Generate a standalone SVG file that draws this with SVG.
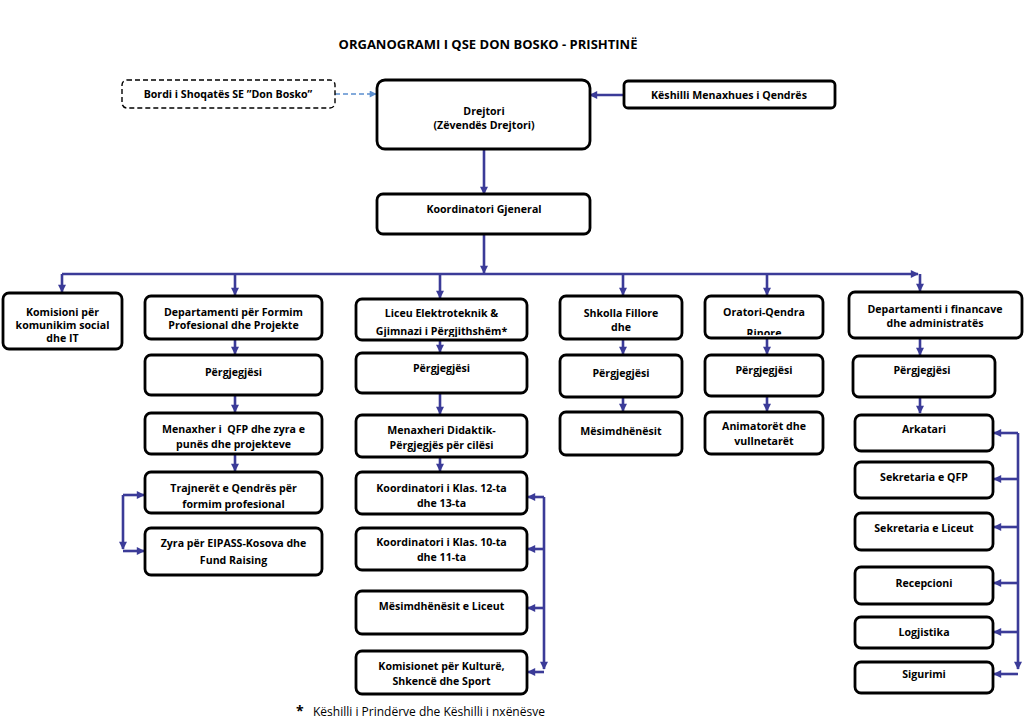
<svg xmlns="http://www.w3.org/2000/svg" width="1024" height="724" viewBox="0 0 1024 724">
<style>
.b{fill:#fff;stroke:#000;stroke-width:2.8}
.d{fill:#fff;stroke:#000;stroke-width:1.4;stroke-dasharray:5 3}
.t{font-family:"Open Sans","Noto Sans",sans-serif;font-weight:700;font-size:10.6px;fill:#000;text-anchor:middle}
.c{fill:none;stroke:#3b3b98;stroke-width:2.6}
.cd{fill:none;stroke:#5b8fd0;stroke-width:1.4;stroke-dasharray:5 3}
</style>
<defs>
<marker id="ah" viewBox="0 0 10 10" refX="9" refY="5" markerWidth="9" markerHeight="8" markerUnits="userSpaceOnUse" orient="auto"><path d="M0,0 L10,5 L0,10 z" fill="#3b3b98"/></marker>
<marker id="ahl" viewBox="0 0 10 10" refX="9" refY="5" markerWidth="8" markerHeight="7" markerUnits="userSpaceOnUse" orient="auto"><path d="M0,0 L10,5 L0,10 z" fill="#5b8fd0"/></marker>
<clipPath id="clLic"><rect x="356" y="299" width="171" height="38"/></clipPath>
<clipPath id="clOra"><rect x="705" y="296" width="117" height="39"/></clipPath>
</defs>
<rect width="1024" height="724" fill="#fff"/>
<text x="488" y="49" class="t" style="font-size:13px">ORGANOGRAMI I QSE DON BOSKO - PRISHTINË</text>

<g id="connectors">
<path class="cd" d="M335,94 L376,94" marker-end="url(#ahl)"/>
<path class="c" d="M624,95 L590,95" marker-end="url(#ah)"/>
<path class="c" d="M484,149 L484,194" marker-end="url(#ah)"/>
<path class="c" d="M484,234 L484,273" marker-end="url(#ah)"/>
<path class="c" d="M62,274 L918,274" marker-end="url(#ah)"/>
<path class="c" d="M62,274 L62,292" marker-end="url(#ah)"/>
<path class="c" d="M235,274 L235,295" marker-end="url(#ah)"/>
<path class="c" d="M440,274 L440,298" marker-end="url(#ah)"/>
<path class="c" d="M623,274 L623,295" marker-end="url(#ah)"/>
<path class="c" d="M767,274 L767,295" marker-end="url(#ah)"/>
<path class="c" d="M920,274 L920,291" marker-end="url(#ah)"/>
<path class="c" d="M235,339 L235,354" marker-end="url(#ah)"/>
<path class="c" d="M235,395 L235,412" marker-end="url(#ah)"/>
<path class="c" d="M235,454 L235,471" marker-end="url(#ah)"/>
<path class="c" d="M123,495 L123,549" marker-end="url(#ah)"/>
<path class="c" d="M123,495 L144,495" marker-end="url(#ah)"/>
<path class="c" d="M123,551 L144,551" marker-end="url(#ah)"/>
<path class="c" d="M440,340 L440,352" marker-end="url(#ah)"/>
<path class="c" d="M440,393 L440,414" marker-end="url(#ah)"/>
<path class="c" d="M440,457 L440,471" marker-end="url(#ah)"/>
<path class="c" d="M544,497 L544,669" marker-end="url(#ah)"/>
<path class="c" d="M544,497 L528,497" marker-end="url(#ah)"/>
<path class="c" d="M544,549 L528,549" marker-end="url(#ah)"/>
<path class="c" d="M544,608 L528,608" marker-end="url(#ah)"/>
<path class="c" d="M544,672 L528,672" marker-end="url(#ah)"/>
<path class="c" d="M623,340 L623,354" marker-end="url(#ah)"/>
<path class="c" d="M623,397 L623,411" marker-end="url(#ah)"/>
<path class="c" d="M767,338 L767,354" marker-end="url(#ah)"/>
<path class="c" d="M767,396 L767,411" marker-end="url(#ah)"/>
<path class="c" d="M920,338 L920,355" marker-end="url(#ah)"/>
<path class="c" d="M920,397 L920,413" marker-end="url(#ah)"/>
<path class="c" d="M1018,433 L1018,669" marker-end="url(#ah)"/>
<path class="c" d="M1018,433 L994,433" marker-end="url(#ah)"/>
<path class="c" d="M1018,479 L994,479" marker-end="url(#ah)"/>
<path class="c" d="M1018,527 L994,527" marker-end="url(#ah)"/>
<path class="c" d="M1018,583 L994,583" marker-end="url(#ah)"/>
<path class="c" d="M1018,632 L994,632" marker-end="url(#ah)"/>
<path class="c" d="M1018,674 L994,674" marker-end="url(#ah)"/>
</g>

<g id="bordi"><rect class="d" x="122" y="80" width="213" height="28" rx="5"/><text class="t" x="228" y="98">Bordi i Shoqatës SE ”Don Bosko”</text></g>
<g id="drejtori"><rect class="b" x="377" y="80" width="213" height="69" rx="8"/><text class="t" x="484" y="115">Drejtori</text><text class="t" x="484" y="129">(Zëvendës Drejtori)</text></g>
<g id="keshilli"><rect class="b" x="624" y="81" width="211" height="27" rx="4"/><text class="t" x="729" y="99">Këshilli Menaxhues i Qendrës</text></g>
<g id="koordinatori"><rect class="b" x="377" y="194" width="213" height="40" rx="6"/><text class="t" x="484" y="213">Koordinatori Gjeneral</text></g>

<g id="komisioni"><rect class="b" x="3" y="293" width="119" height="56" rx="6"/><text class="t" x="62.5" y="316">Komisioni për</text><text class="t" x="62.5" y="329">komunikim social</text><text class="t" x="62.5" y="342">dhe IT</text></g>

<g id="dept"><rect class="b" x="145" y="296" width="177" height="43" rx="6"/><text class="t" x="233.5" y="316">Departamenti për Formim</text><text class="t" x="233.5" y="329">Profesional dhe Projekte</text></g>
<g id="dept-pergj"><rect class="b" x="145" y="355" width="177" height="40" rx="6"/><text class="t" x="233.5" y="376">Përgjegjësi</text></g>
<g id="menaxher-qfp"><rect class="b" x="145" y="413" width="177" height="41" rx="6"/><text class="t" x="233.5" y="433" xml:space="preserve">Menaxher i  QFP dhe zyra e</text><text class="t" x="233.5" y="448">punës dhe projekteve</text></g>
<g id="trajneret"><rect class="b" x="145" y="472" width="177" height="41" rx="6"/><text class="t" x="233.5" y="492">Trajnerët e Qendrës për</text><text class="t" x="233.5" y="508">formim profesional</text></g>
<g id="zyra"><rect class="b" x="145" y="528" width="177" height="47" rx="6"/><text class="t" x="233.5" y="547">Zyra për EIPASS-Kosova dhe</text><text class="t" x="233.5" y="564">Fund Raising</text></g>

<g id="liceu"><rect class="b" x="356" y="299" width="171" height="41" rx="6"/><g clip-path="url(#clLic)"><text class="t" x="441.5" y="317">Liceu Elektroteknik &amp;</text><text class="t" x="441.5" y="335">Gjimnazi i Përgjithshëm*</text></g></g>
<g id="liceu-pergj"><rect class="b" x="356" y="353" width="171" height="40" rx="6"/><text class="t" x="441.5" y="372">Përgjegjësi</text></g>
<g id="menaxheri-didaktik"><rect class="b" x="356" y="415" width="171" height="42" rx="6"/><text class="t" x="441.5" y="434">Menaxheri Didaktik-</text><text class="t" x="441.5" y="449">Përgjegjës për cilësi</text></g>
<g id="koord-12"><rect class="b" x="356" y="472" width="171" height="42" rx="6"/><text class="t" x="441.5" y="492">Koordinatori i Klas. 12-ta</text><text class="t" x="441.5" y="507">dhe 13-ta</text></g>
<g id="koord-10"><rect class="b" x="356" y="528" width="171" height="42" rx="6"/><text class="t" x="441.5" y="546">Koordinatori i Klas. 10-ta</text><text class="t" x="441.5" y="561">dhe 11-ta</text></g>
<g id="mesim-liceut"><rect class="b" x="356" y="591" width="171" height="43" rx="6"/><text class="t" x="441.5" y="610">Mësimdhënësit e Liceut</text></g>
<g id="komisionet"><rect class="b" x="356" y="651" width="171" height="43" rx="6"/><text class="t" x="441.5" y="670">Komisionet për Kulturë,</text><text class="t" x="441.5" y="685">Shkencë dhe Sport</text></g>

<g id="shkolla"><rect class="b" x="560" y="296" width="122" height="43" rx="6"/><text class="t" x="621" y="317">Shkolla Fillore</text><text class="t" x="621" y="331">dhe</text></g>
<g id="shkolla-pergj"><rect class="b" x="560" y="355" width="122" height="42" rx="6"/><text class="t" x="621" y="377">Përgjegjësi</text></g>
<g id="mesimdhenesit"><rect class="b" x="560" y="412" width="122" height="43" rx="6"/><text class="t" x="621" y="435">Mësimdhënësit</text></g>

<g id="oratori"><rect class="b" x="705" y="296" width="118" height="42" rx="6"/><g clip-path="url(#clOra)"><text class="t" x="764" y="316">Oratori-Qendra</text><text class="t" x="764" y="337">Rinore</text></g></g>
<g id="oratori-pergj"><rect class="b" x="705" y="355" width="118" height="41" rx="6"/><text class="t" x="764" y="374">Përgjegjësi</text></g>
<g id="animatoret"><rect class="b" x="705" y="412" width="118" height="42" rx="6"/><text class="t" x="764" y="430">Animatorët dhe</text><text class="t" x="764" y="445">vullnetarët</text></g>

<g id="fin"><rect class="b" x="849" y="292" width="173" height="46" rx="6"/><text class="t" x="935" y="313">Departamenti i financave</text><text class="t" x="935" y="327">dhe administratës</text></g>
<g id="fin-pergj"><rect class="b" x="853" y="356" width="142" height="41" rx="6"/><text class="t" x="922" y="374">Përgjegjësi</text></g>
<g id="arkatari"><rect class="b" x="855" y="415" width="138" height="36" rx="6"/><text class="t" x="924" y="433">Arkatari</text></g>
<g id="sek-qfp"><rect class="b" x="855" y="462" width="138" height="36" rx="6"/><text class="t" x="924" y="481">Sekretaria e QFP</text></g>
<g id="sek-liceut"><rect class="b" x="855" y="513" width="138" height="37" rx="6"/><text class="t" x="924" y="532">Sekretaria e Liceut</text></g>
<g id="recepcioni"><rect class="b" x="855" y="567" width="138" height="37" rx="6"/><text class="t" x="924" y="587">Recepcioni</text></g>
<g id="logjistika"><rect class="b" x="855" y="617" width="138" height="31" rx="6"/><text class="t" x="924" y="636">Logjistika</text></g>
<g id="sigurimi"><rect class="b" x="855" y="662" width="138" height="31" rx="6"/><text class="t" x="924" y="678">Sigurimi</text></g>

<text x="296" y="716" style="font-family:'Open Sans','Noto Sans',sans-serif;font-weight:700;font-size:14px">*</text>
<text x="313" y="716" style="font-family:'Open Sans','Noto Sans',sans-serif;font-size:12px">Këshilli i Prindërve dhe Këshilli i nxënësve</text>
</svg>
